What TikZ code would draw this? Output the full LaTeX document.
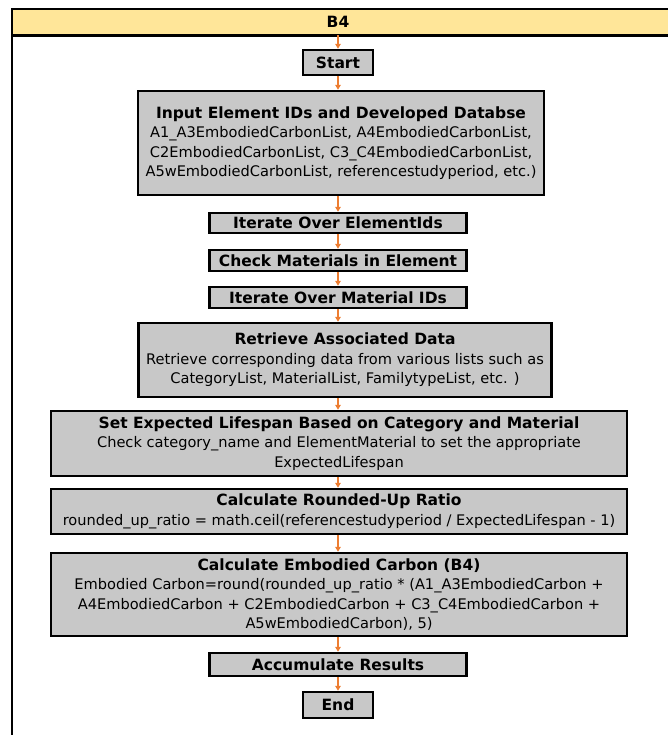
\documentclass[tikz,border=0pt]{standalone}
\usepackage{fontspec}
\setmainfont{DejaVu Sans}
\usetikzlibrary{arrows.meta}
\definecolor{boxfill}{RGB}{200,200,200}
\definecolor{hdrfill}{RGB}{255,230,153}
\definecolor{flow}{RGB}{237,125,49}
\newcommand{\steptitle}[1]{{\fontsize{15.5}{19.5}\selectfont\bfseries #1}}
\tikzset{
  stepbox/.style={draw=black, line width=2.4pt, fill=boxfill, inner sep=0pt,
    align=center, font=\fontsize{14.6}{19.5}\selectfont},
  flowarrow/.style={draw=flow, line width=1.3pt, -{Triangle[length=5pt,width=5.5pt]}},
  frameline/.style={draw=black, line width=2.6pt},
  hdrband/.style={fill=hdrfill, draw=none, inner sep=0pt},
  hdrtext/.style={font=\fontsize{15.5}{18}\selectfont\bfseries, inner sep=0pt},
}
\begin{document}
\begin{tikzpicture}[x=1pt,y=-1pt]
\useasboundingbox (0,0) rectangle (668,735);
\clip (0,0) rectangle (668,735);

% swimlane header and frame
\node[hdrband, minimum width=664, minimum height=26, anchor=north west] (hdr) at (12,9) {};
\node[hdrtext] (hdrlabel) at (338,22) {B4};
\draw[frameline] (hdr.north east) -- (hdr.north west) -- (hdr.south west) -- (hdr.south east);
\coordinate (lanebottom) at (12,745);
\draw[frameline] (hdr.north west) -- (lanebottom);

% process steps
\node[stepbox, minimum width=70, minimum height=25] (start) at (338,62.5) {\steptitle{Start}};
\node[stepbox, minimum width=406, minimum height=104] (input) at (341,143)
  {\steptitle{Input Element IDs and Developed Databse}\\
   A1\_A3EmbodiedCarbonList, A4EmbodiedCarbonList,\\
   C2EmbodiedCarbonList, C3\_C4EmbodiedCarbonList,\\
   A5wEmbodiedCarbonList, referencestudyperiod, etc.)};
\node[stepbox, minimum width=257, minimum height=20] (iterel) at (338,223) {\steptitle{Iterate Over ElementIds}};
\node[stepbox, minimum width=257, minimum height=21] (checkmat) at (338,260.5) {\steptitle{Check Materials in Element}};
\node[stepbox, minimum width=257, minimum height=21] (itermat) at (338,297.5) {\steptitle{Iterate Over Material IDs}};
\node[stepbox, minimum width=413, minimum height=74] (retrieve) at (345,360)
  {\steptitle{Retrieve Associated Data}\\
   Retrieve corresponding data from various lists such as\\
   CategoryList, MaterialList, FamilytypeList, etc. )};
\node[stepbox, minimum width=576, minimum height=65] (lifespan) at (339,443.5)
  {\steptitle{Set Expected Lifespan Based on Category and Material}\\
   Check category\_name and ElementMaterial to set the appropriate\\
   ExpectedLifespan};
\node[stepbox, minimum width=576, minimum height=45] (ratio) at (339,511.5)
  {\steptitle{Calculate Rounded-Up Ratio}\\
   rounded\_up\_ratio = math.ceil(referencestudyperiod / ExpectedLifespan - 1)};
\node[stepbox, minimum width=576, minimum height=83] (carbon) at (339,594.5)
  {\steptitle{Calculate Embodied Carbon (B4)}\\
   Embodied Carbon=round(rounded\_up\_ratio * (A1\_A3EmbodiedCarbon +\\
   A4EmbodiedCarbon + C2EmbodiedCarbon + C3\_C4EmbodiedCarbon +\\
   A5wEmbodiedCarbon), 5)};
\node[stepbox, minimum width=257, minimum height=23] (accum) at (338,664.5) {\steptitle{Accumulate Results}};
\node[stepbox, minimum width=70, minimum height=26] (finish) at (338,705) {\steptitle{End}};

% flow connectors
\draw[flowarrow] (start.north |- hdr.south) -- (start.north);
\draw[flowarrow] (start) -- (start |- input.north);
\draw[flowarrow] (input.south -| start) -- (iterel);
\draw[flowarrow] (iterel) -- (checkmat);
\draw[flowarrow] (checkmat) -- (itermat);
\draw[flowarrow] (itermat.south) -- (itermat.south |- retrieve.north);
\draw[flowarrow] (retrieve.south -| itermat) -- (itermat |- lifespan.north);
\draw[flowarrow] (lifespan.south -| itermat) -- (itermat |- ratio.north);
\draw[flowarrow] (ratio.south -| itermat) -- (itermat |- carbon.north);
\draw[flowarrow] (carbon.south -| accum) -- (accum);
\draw[flowarrow] (accum) -- (finish);
\end{tikzpicture}
\end{document}
